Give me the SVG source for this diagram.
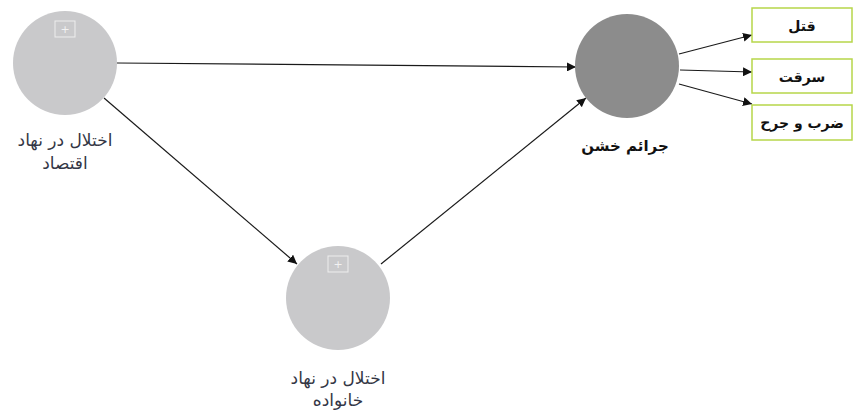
<svg xmlns="http://www.w3.org/2000/svg" width="857" height="412" viewBox="0 0 857 412">
<style>
.lat{fill:#c9c9cb}
.lbl{font-family:"DejaVu Sans","Noto Sans",sans-serif;font-size:17px;fill:#333645;text-anchor:middle}
.bold{font-family:"DejaVu Sans","Noto Sans",sans-serif;font-size:15px;font-weight:bold;fill:#111;text-anchor:middle}
.bx{font-size:14px}
.box{fill:#fff;stroke:#b7d64a;stroke-width:1.5}
.plus{fill:none;stroke:#eeeeee;stroke-width:1}
.pt{font-family:"DejaVu Sans",sans-serif;font-size:11px;fill:#f2f2f2;text-anchor:middle}
.con{stroke:#1a1a1a;stroke-width:1.2;fill:none;marker-end:url(#ah)}
</style>
<defs>
<marker id="ah" viewBox="0 0 10 10" refX="10" refY="5" markerWidth="9" markerHeight="9" markerUnits="userSpaceOnUse" orient="auto">
<path d="M0,0 L10,5 L0,10 z" fill="#111"/>
</marker>
</defs>
<rect width="857" height="412" fill="#fff"/>
<g id="connectors">
<line class="con" x1="117" y1="63" x2="576" y2="67"/>
<line class="con" x1="104" y1="98" x2="297" y2="264"/>
<line class="con" x1="381" y1="264" x2="586" y2="98"/>
<line class="con" x1="679" y1="54" x2="752" y2="35"/>
<line class="con" x1="680" y1="70" x2="752" y2="72"/>
<line class="con" x1="679" y1="84" x2="752" y2="104"/>
</g>
<g id="node-economy">
<circle class="lat" cx="65" cy="63" r="52"/>
<rect class="plus" x="55" y="21" width="20" height="16"/>
<text class="pt" x="65" y="33">+</text>
<text class="lbl" x="65" y="146">اختلال در نهاد</text>
<text class="lbl" x="65" y="169">اقتصاد</text>
</g>
<g id="node-family">
<circle class="lat" cx="338" cy="298" r="52"/>
<rect class="plus" x="328" y="256" width="20" height="16"/>
<text class="pt" x="338" y="268">+</text>
<text class="lbl" x="338" y="384">اختلال در نهاد</text>
<text class="lbl" x="338" y="406">خانواده</text>
</g>
<g id="node-crime">
<circle cx="627" cy="66" r="52" fill="#8c8c8c"/>
<text class="bold" x="625" y="151">جرائم خشن</text>
</g>
<g id="box-qatl">
<rect class="box" x="752" y="8" width="100" height="34"/>
<text class="bold bx" x="802" y="31">قتل</text>
</g>
<g id="box-serqat">
<rect class="box" x="752" y="59" width="100" height="34"/>
<text class="bold bx" x="802" y="82">سرقت</text>
</g>
<g id="box-zarb">
<rect class="box" x="752" y="105" width="100" height="35"/>
<text class="bold bx" x="802" y="128">ضرب و جرح</text>
</g>
</svg>
